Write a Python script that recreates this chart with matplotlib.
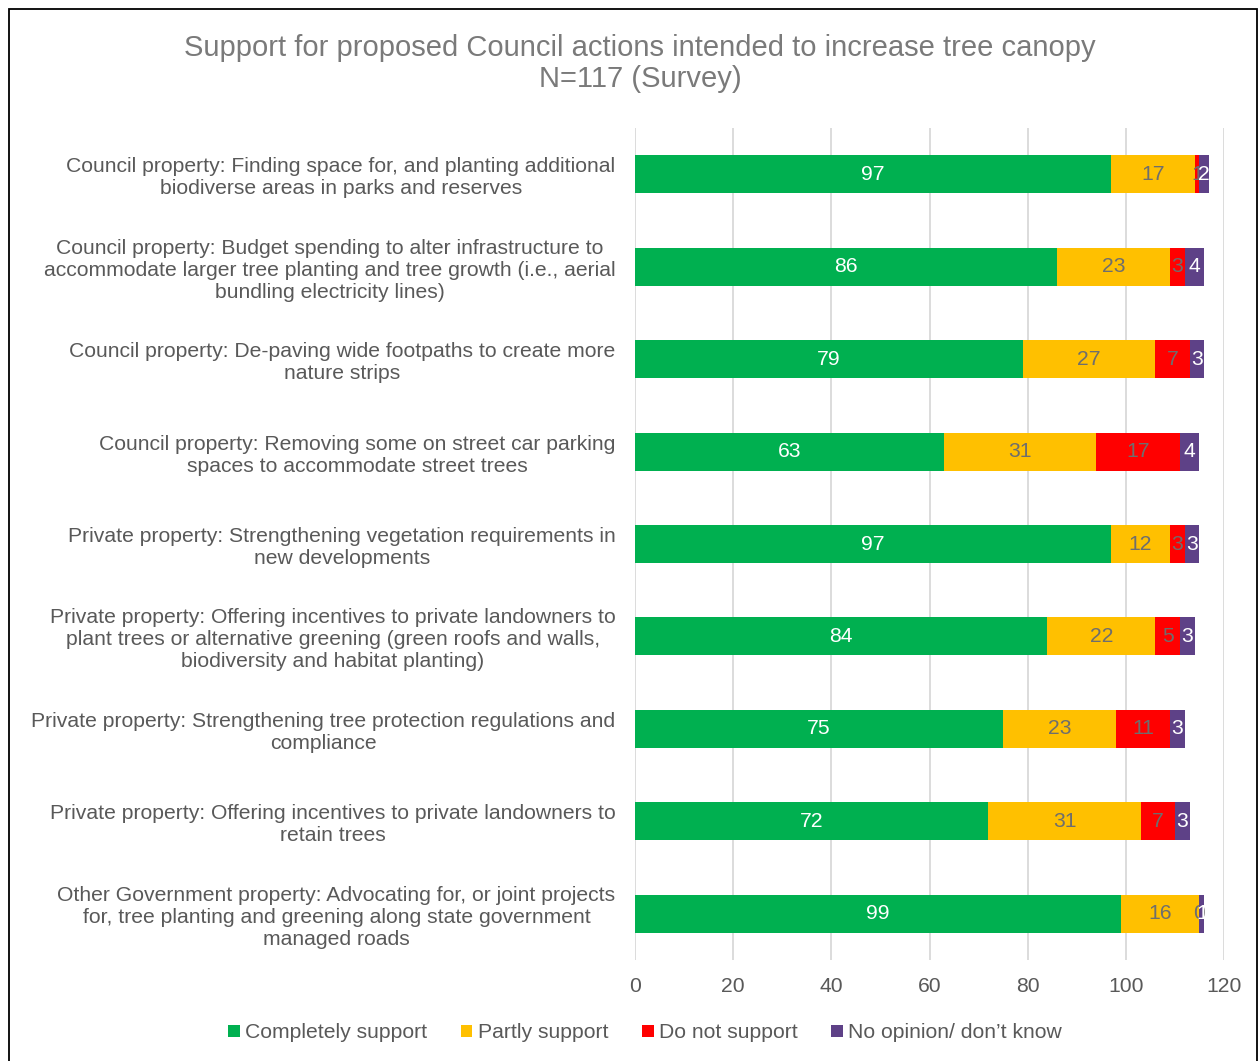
import matplotlib
matplotlib.use("Agg")
import matplotlib.pyplot as plt
from matplotlib.patches import Rectangle, Patch

plt.rcParams["font.family"] = ["Liberation Sans", "DejaVu Sans"]

# ---------------------------------------------------------------------------
# Données
# ---------------------------------------------------------------------------
categories = [
    "Council property: Finding space for, and planting additional\nbiodiverse areas in parks and reserves",
    "Council property: Budget spending to alter infrastructure to\naccommodate larger tree planting and tree growth (i.e., aerial\nbundling electricity lines)",
    "Council property: De-paving wide footpaths to create more\nnature strips",
    "Council property: Removing some on street car parking\nspaces to accommodate street trees",
    "Private property: Strengthening vegetation requirements in\nnew developments",
    "Private property: Offering incentives to private landowners to\nplant trees or alternative greening (green roofs and walls,\nbiodiversity and habitat planting)",
    "Private property: Strengthening tree protection regulations and\ncompliance",
    "Private property: Offering incentives to private landowners to\nretain trees",
    "Other Government property: Advocating for, or joint projects\nfor, tree planting and greening along state government\nmanaged roads",
]
completely = [97, 86, 79, 63, 97, 84, 75, 72, 99]
partly = [17, 23, 27, 31, 12, 22, 23, 31, 16]
not_support = [1, 3, 7, 17, 3, 5, 11, 7, 0]
no_opinion = [2, 4, 3, 4, 3, 3, 3, 3, 1]

series = [
    (completely, "Completely support", "#00B050", "white"),
    (partly, "Partly support", "#FFC000", "#6E6E6E"),
    (not_support, "Do not support", "#FF0000", "#6E6E6E"),
    (no_opinion, "No opinion/ don\u2019t know", "#5E4187", "white"),
]

grey = "#595959"
fs = 15.2

fig = plt.figure(figsize=(12.6, 10.61), dpi=100)
ax = fig.add_axes([635 / 1260, 1 - 960 / 1061, (1224 - 635) / 1260, (960 - 128) / 1061])

y = list(range(len(categories)))
left = [0] * len(categories)
for values, label, color, txt_color in series:
    bars = ax.barh(y, values, left=left, height=0.41, color=color, label=label, zorder=3)
    ax.bar_label(bars, labels=[str(v) for v in values], label_type="center",
                 color=txt_color, fontsize=fs)
    left = [l + v for l, v in zip(left, values)]

ax.set_ylim(len(categories) - 0.5, -0.5)
ax.set_xlim(0, 120)
ax.set_xticks(range(0, 121, 20))
ax.set_yticks(y)
ax.set_yticklabels(categories, fontsize=fs, color=grey, linespacing=1.2,
                   multialignment="center")
ax.tick_params(axis="x", colors=grey, labelsize=fs, length=0, pad=12)
ax.tick_params(axis="y", length=0, pad=14)
ax.grid(axis="x", color="#D9D9D9", linewidth=1.3, zorder=0)
for s in ax.spines.values():
    s.set_visible(False)

fig.text(640 / 1260, 1 - 48 / 1061, "Support for proposed Council actions intended to increase tree canopy",
         ha="center", va="center", fontsize=21, color="#7A7A7A")
fig.text(640 / 1260, 1 - 79 / 1061, "N=117 (Survey)",
         ha="center", va="center", fontsize=21, color="#7A7A7A")

handles = [Patch(facecolor=c, label=l) for _, l, c, _ in series]
fig.legend(handles=handles, loc="center", bbox_to_anchor=(645 / 1260, 1 - 1033 / 1061),
           ncol=4, frameon=False, fontsize=fs, labelcolor=grey,
           handlelength=0.55, handleheight=0.55, handletextpad=0.25, columnspacing=1.6)

fig.patches.append(Rectangle((9 / 1260, -0.01), 1248 / 1260, 1 - 9 / 1061 + 0.01,
                             transform=fig.transFigure, fill=False,
                             edgecolor="black", linewidth=1.3))

fig.savefig("out.png", dpi=100)
